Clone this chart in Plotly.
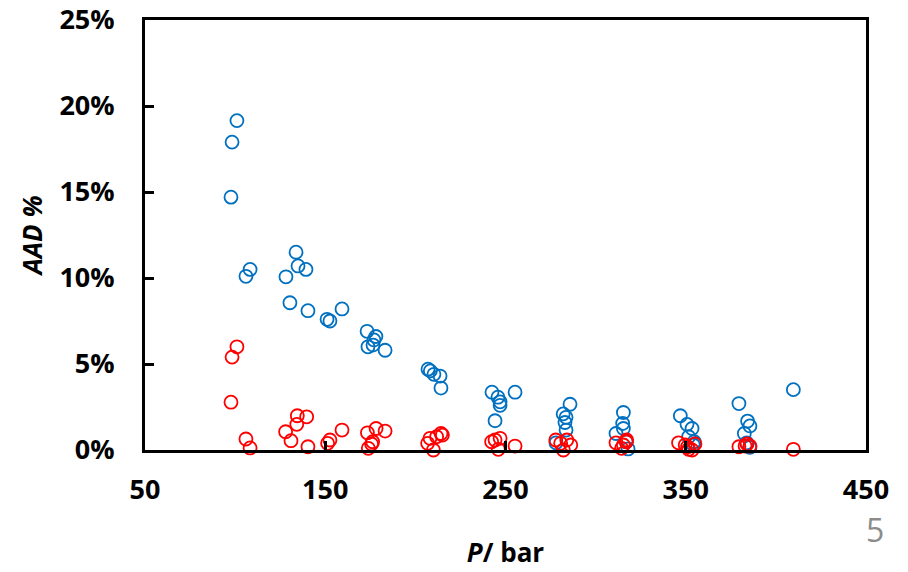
import plotly.graph_objects as go

# Blue series (P in bar, AAD in %)
blue_p = [101.0, 98.3, 97.7, 108.3, 106.0, 133.8, 134.9, 139.3, 128.2, 130.4, 140.4, 159.3,
          151.0, 152.6, 173.2, 178.1, 177.0, 176.5, 173.7, 183.2,
          207.0, 208.3, 210.3, 213.7, 214.2,
          242.5, 245.8, 247.0, 247.0, 244.2, 255.3,
          285.8, 282.0, 283.6, 283.0, 283.6, 278.0,
          315.4, 315.0, 311.3, 315.4, 317.0, 318.0,
          347.0, 350.7, 353.5, 351.6, 354.7, 354.2,
          379.5, 384.3, 385.6, 382.5, 383.8, 385.6,
          409.7]
blue_aad = [19.15, 17.9, 14.7, 10.5, 10.1, 11.5, 10.7, 10.5, 10.07, 8.56, 8.1, 8.2,
            7.6, 7.5, 6.9, 6.6, 6.4, 6.1, 6.0, 5.8,
            4.7, 4.6, 4.4, 4.3, 3.6,
            3.36, 3.07, 2.8, 2.6, 1.7, 3.36,
            2.66, 2.1, 1.9, 1.6, 1.16, 0.42,
            2.18, 1.54, 0.96, 1.25, 0.48, 0.06,
            1.99, 1.49, 1.25, 0.77, 0.48, 0.29,
            2.7, 1.68, 1.4, 0.96, 0.42, 0.15,
            3.51]

# Red series
red_p = [101.0, 98.3, 97.7, 106.0, 108.3,
         128.0, 131.0, 134.5, 134.2, 139.7, 140.4, 151.3, 152.6, 159.3,
         173.4, 178.2, 183.2, 176.3, 175.7, 173.9,
         206.8, 208.1, 211.8, 214.2, 215.0, 210.0,
         242.3, 244.2, 247.0, 246.0, 255.3,
         277.9, 280.6, 282.1, 284.0, 286.2,
         311.3, 314.4, 317.2, 315.4, 317.0,
         346.0, 349.7, 351.6, 353.5, 355.1, 351.0,
         379.5, 382.9, 385.6, 384.0,
         409.7]
red_aad = [6.0, 5.4, 2.78, 0.64, 0.12,
           1.06, 0.54, 1.99, 1.49, 1.93, 0.19, 0.39, 0.58, 1.16,
           1.0, 1.25, 1.1, 0.48, 0.35, 0.1,
           0.39, 0.68, 0.77, 0.96, 0.87, 0.0,
           0.48, 0.58, 0.68, 0.04, 0.23,
           0.58, 0.39, 0.0, 0.58, 0.29,
           0.42, 0.1, 0.58, 0.29, 0.48,
           0.42, 0.29, 0.04, 0.0, 0.35, 0.19,
           0.19, 0.23, 0.23, 0.35,
           0.04]

x_ticks = [50, 150, 250, 350, 450]
y_ticks = [0, 5, 10, 15, 20, 25]
y_tick_labels = ["0%", "5%", "10%", "15%", "20%", "25%"]

FONT = "Open Sans"

fig = go.Figure()
fig.add_trace(go.Scatter(x=blue_p, y=blue_aad, mode="markers", cliponaxis=False,
                         marker=dict(symbol="circle-open", size=13, color="#0070C0",
                                     line=dict(width=1.8, color="#0070C0")),
                         showlegend=False))
fig.add_trace(go.Scatter(x=red_p, y=red_aad, mode="markers", cliponaxis=False,
                         marker=dict(symbol="circle-open", size=13, color="#FF0000",
                                     line=dict(width=1.8, color="#FF0000")),
                         showlegend=False))

axis_common = dict(showline=True, linecolor="black", linewidth=3, mirror=True,
                   showgrid=False, zeroline=False, ticks="inside", ticklen=9,
                   tickwidth=3, tickcolor="black", automargin=False,
                   ticklabeloverflow="allow",
                   tickfont=dict(family=FONT, size=27, color="black", weight="bold"))

fig.update_xaxes(range=[50, 450], tickvals=x_ticks, ticklabelstandoff=14,
                 title=dict(text="<b><i>P</i>/ bar</b>", font=dict(family=FONT, size=26, color="black"),
                            standoff=38),
                 **axis_common)
fig.update_yaxes(range=[0, 25], tickvals=y_ticks, ticktext=y_tick_labels, ticklabelstandoff=22,
                 title=dict(text="<b><i>AAD %</i></b>", font=dict(family=FONT, size=26, color="black"),
                            standoff=10),
                 **axis_common)

fig.add_annotation(text="5", xref="paper", yref="paper", x=1.028, y=-0.185,
                   showarrow=False, font=dict(family=FONT, size=32, color="#8C8C8C"),
                   xanchor="right", yanchor="middle")

# the page body adds an 8px offset, so margins are shifted accordingly
fig.update_layout(width=908, height=572, plot_bgcolor="white", paper_bgcolor="white",
                  margin=dict(l=137, r=50, t=12, b=130))

fig.write_html("out.html")
